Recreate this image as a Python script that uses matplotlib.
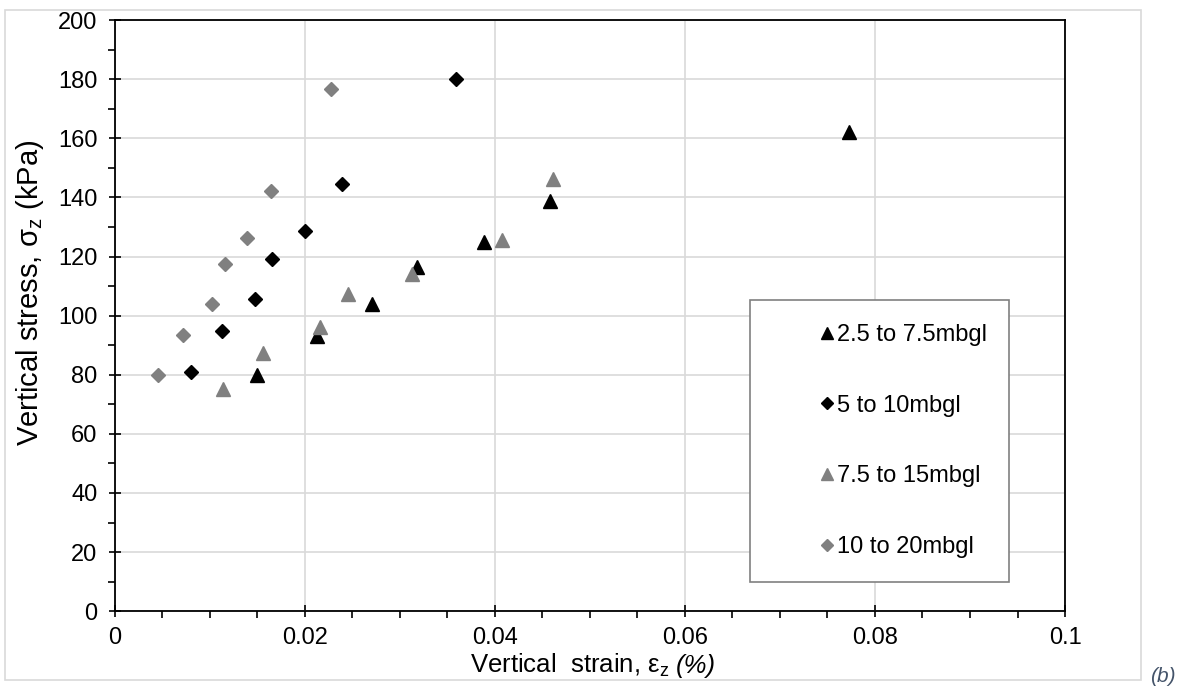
import matplotlib.pyplot as plt
from matplotlib.patches import Rectangle
from matplotlib.ticker import MultipleLocator

plt.rcParams['font.family'] = ['Liberation Sans', 'DejaVu Sans']
plt.rcParams['mathtext.fontset'] = 'custom'
plt.rcParams['mathtext.rm'] = 'Liberation Sans'
plt.rcParams['mathtext.it'] = 'Liberation Sans:italic'

# 2.5 to 7.5 mbgl (black triangles)
x_a = [0.0150, 0.0213, 0.0271, 0.0318, 0.0389, 0.0458, 0.0773]
y_a = [79.8, 93.1, 104.1, 116.6, 124.8, 138.9, 162.2]
# 5 to 10 mbgl (black diamonds)
x_b = [0.0080, 0.0113, 0.0148, 0.0166, 0.0200, 0.0239, 0.0359]
y_b = [80.9, 94.7, 105.6, 119.3, 128.5, 144.6, 180.2]
# 7.5 to 15 mbgl (grey triangles)
x_c = [0.0114, 0.0156, 0.0216, 0.0245, 0.0313, 0.0408, 0.0461]
y_c = [75.2, 87.4, 96.3, 107.2, 114.2, 125.6, 146.3]
# 10 to 20 mbgl (grey diamonds)
x_d = [0.0046, 0.0072, 0.0102, 0.0116, 0.0139, 0.0165, 0.0228]
y_d = [79.8, 93.4, 104.1, 117.3, 126.2, 142.0, 176.5]

labels = ['2.5 to 7.5mbgl', '5 to 10mbgl', '7.5 to 15mbgl', '10 to 20mbgl']

fig = plt.figure(figsize=(11.81, 6.88), dpi=100)
ax = fig.add_axes([0.0971, 0.1116, 0.8047, 0.8593])

# light border round the chart area
fig.patches.append(Rectangle((5 / 1181, 1 - 680 / 688), 1136 / 1181, 670 / 688,
                             transform=fig.transFigure, fill=False,
                             edgecolor='#d9d9d9', linewidth=1.2))

ax.plot(x_a, y_a, '^', color='black', markersize=10, label=labels[0])
ax.plot(x_b, y_b, 'D', color='black', markersize=7, label=labels[1])
ax.plot(x_c, y_c, '^', color='#808080', markersize=10, label=labels[2])
ax.plot(x_d, y_d, 'D', color='#808080', markersize=7, label=labels[3])

ax.set_xlim(0, 0.1)
ax.set_ylim(0, 200)
ax.xaxis.set_major_locator(MultipleLocator(0.02))
ax.xaxis.set_minor_locator(MultipleLocator(0.005))
ax.yaxis.set_major_locator(MultipleLocator(20))
ax.yaxis.set_minor_locator(MultipleLocator(10))
ax.set_xticks([0, 0.02, 0.04, 0.06, 0.08, 0.1])
ax.set_xticklabels(['0', '0.02', '0.04', '0.06', '0.08', '0.1'])
ax.tick_params(which='major', direction='inout', length=9, width=1.2, labelsize=17)
ax.tick_params(axis='x', which='major', pad=7)
ax.tick_params(axis='y', which='major', pad=8)
ax.tick_params(which='minor', direction='out', length=5, width=1.2)
ax.grid(True, which='major', color='#d9d9d9', linewidth=1.2)
ax.set_axisbelow(True)
for s in ax.spines.values():
    s.set_linewidth(1.3)
    s.set_color('black')

ax.set_ylabel('Vertical stress, σ$_\\mathrm{z}$ (kPa)', fontsize=21)
ax.yaxis.set_label_coords(-0.072, 0.538)

# x label: upright part + italic "(%)", centred together under the axes
xl1 = fig.text(0, 1 - 673 / 688, 'Vertical  strain, ε$_\\mathrm{z}$', fontsize=18.5,
               ha='left', va='baseline')
xl2 = fig.text(0, 1 - 673 / 688, '(%)', fontsize=18.5, style='italic',
               ha='left', va='baseline')
fig.canvas.draw()
r = fig.canvas.get_renderer()
w1 = xl1.get_window_extent(r).width
w2 = xl2.get_window_extent(r).width
gap = 6
x0 = 593 - (w1 + gap + w2) / 2
xl1.set_x(x0 / 1181)
xl2.set_x((x0 + w1 + gap) / 1181)

leg = ax.legend(loc='upper left', bbox_to_anchor=(0.668, 0.527, 0.273, 0), mode='expand',
                fontsize=17, markerscale=0.85, numpoints=1, fancybox=False,
                edgecolor='#808080', framealpha=1, borderpad=1.03, labelspacing=2.06,
                handlelength=4.5, handletextpad=-1.82, borderaxespad=0)
leg.get_frame().set_linewidth(1.2)

fig.text(1150 / 1181, 1 - 676 / 688, '(b)', fontsize=15, style='italic',
         color='#44546a', va='center')

fig.savefig('out.png', dpi=100)
